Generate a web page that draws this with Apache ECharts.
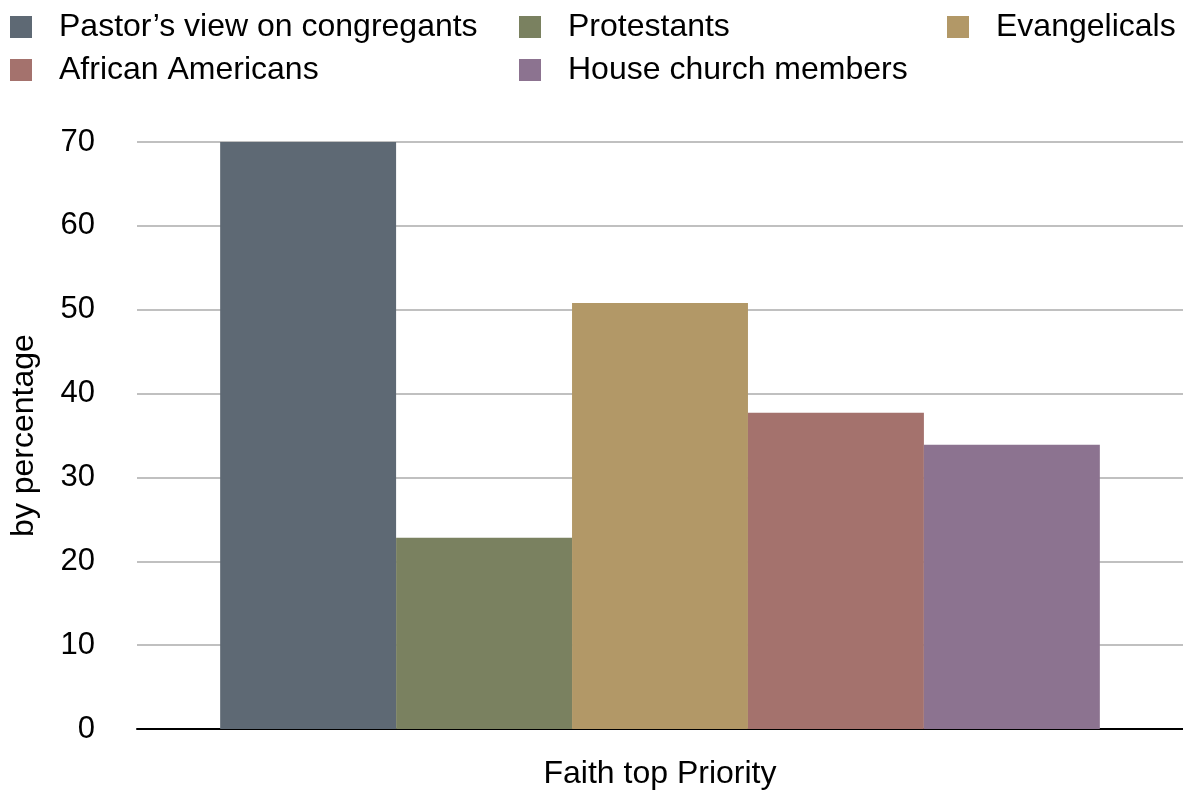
<!DOCTYPE html>
<html>
<head>
<meta charset="utf-8">
<title>Faith top Priority</title>
<script src="https://cdn.jsdelivr.net/npm/echarts@6/dist/echarts.min.js"></script>
<style>
  html, body { margin: 0; padding: 0; background: #fff; }
  #chart { width: 1183px; height: 791px; }
</style>
</head>
<body>
<div id="chart"></div>
<script>
const categories = ['Faith top Priority']
const seriesNames = ['Pastor\u2019s view on congregants', 'Protestants', 'Evangelicals', 'African Americans', 'House church members']
const seriesValues = [70, 22.8, 50.8, 37.7, 33.9]
const seriesColors = ['#5e6974', '#7a8160', '#b29867', '#a4726d', '#8c7390']
const yTicks = [0, 10, 20, 30, 40, 50, 60, 70]

const font = 'Liberation Sans, Arial, Helvetica, sans-serif'

let series = seriesNames.map((name, i) => {
  return {
    name: name,
    type: 'bar',
    barGap: '0%',
    barCategoryGap: '15.9%',
    itemStyle: { color: seriesColors[i] },
    data: [seriesValues[i]]
  }
})

// three legend columns like the original
const legendBase = {
  orient: 'vertical',
  top: 11,
  padding: 0,
  itemWidth: 22,
  itemHeight: 22,
  itemGap: 11,
  icon: 'rect',
  textStyle: { fontSize: 32, fontFamily: font, color: '#000', padding: [0, 0, 0, 22] }
}

const option = {
  animation: false,
  legend: [
    { ...legendBase, left: 10, data: [seriesNames[0], seriesNames[3]] },
    { ...legendBase, left: 519, data: [seriesNames[1], seriesNames[4]] },
    { ...legendBase, left: 947, data: [seriesNames[2]] }
  ],
  grid: {
    left: 137,
    right: 0,
    top: 142,
    bottom: 62,
    containLabel: false
  },
  xAxis: {
    type: 'category',
    data: categories,
    axisLine: { lineStyle: { color: '#000', width: 2 } },
    axisTick: { show: false },
    axisLabel: { margin: 29, fontSize: 32, fontFamily: font, color: '#000' }
  },
  yAxis: {
    type: 'value',
    min: yTicks[0],
    max: yTicks[yTicks.length - 1],
    interval: 10,
    name: 'by percentage',
    nameLocation: 'middle',
    nameGap: 97,
    nameTextStyle: { fontSize: 32, fontFamily: font, color: '#000' },
    axisLine: { show: false },
    axisTick: { show: false },
    axisLabel: { margin: 42, fontSize: 31, fontFamily: font, color: '#000' },
    splitLine: { lineStyle: { color: '#c0c0c0', width: 2 } }
  },
  series: series
}

let c = echarts.init(document.getElementById('chart'))
c.setOption(option)
</script>
</body>
</html>
